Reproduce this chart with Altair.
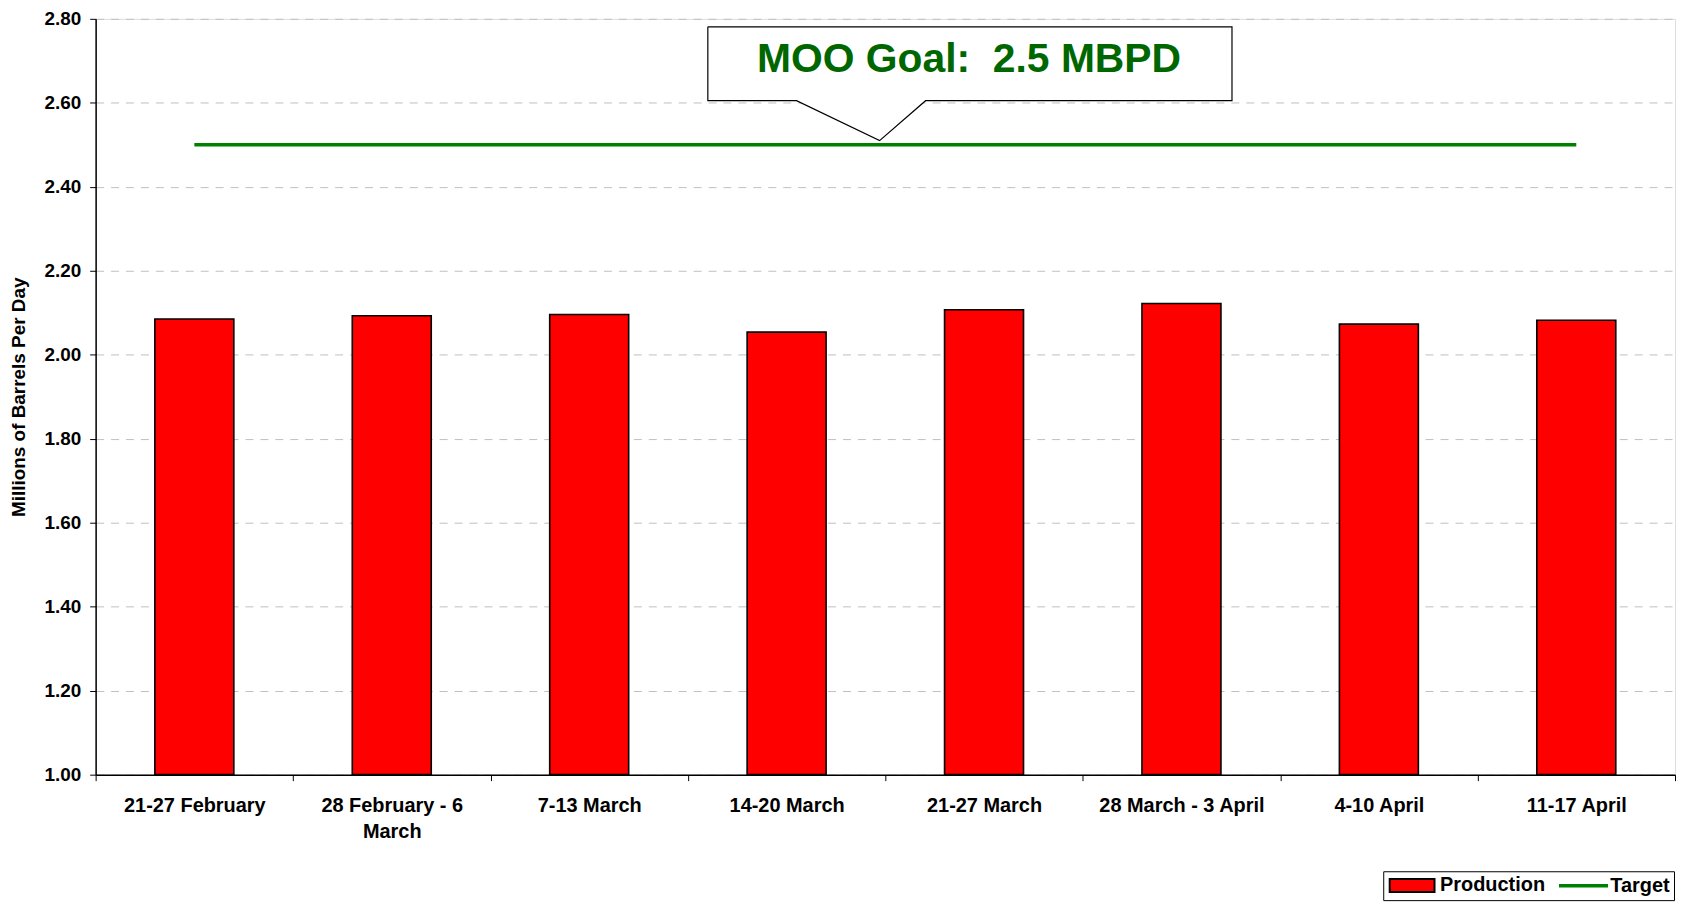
import altair as alt
import pandas as pd

# ---- data ----
categories = [
    "21-27 February",
    "28 February - 6 March",
    "7-13 March",
    "14-20 March",
    "21-27 March",
    "28 March - 3 April",
    "4-10 April",
    "11-17 April",
]
production = [2.085, 2.093, 2.096, 2.054, 2.107, 2.122, 2.073, 2.082]
target = [2.5, 2.5, 2.5, 2.5, 2.5, 2.5, 2.5, 2.5]
y_ticks = [1.0, 1.2, 1.4, 1.6, 1.8, 2.0, 2.2, 2.4, 2.6, 2.8]
series_names = ["Production", "Target"]
series_colors = ["#FF0000", "#008000"]

# callout (in category units 0..8 along x, data units along y)
callout_x = [3.101, 5.756, 5.756, 4.204, 3.971, 3.550, 3.101, 3.101]
callout_y = [2.781, 2.781, 2.605, 2.605, 2.510, 2.605, 2.605, 2.781]
goal_text = ["MOO Goal:\u00a0 2.5 MBPD"]
goal_x = [4.424]
goal_y = [2.702]

bars_df = pd.DataFrame({"week": categories, "value": production, "series": "Production"})
line_df = pd.DataFrame({"week": categories, "value": target, "series": "Target"})
callout_df = pd.DataFrame({"pos": callout_x, "value": callout_y, "i": list(range(len(callout_x)))})
goal_df = pd.DataFrame({"pos": goal_x, "value": goal_y, "text": goal_text})

FONT = "Liberation Sans"

x_enc = alt.X(
    "week:N",
    sort=categories,
    scale=alt.Scale(paddingInner=0, paddingOuter=0),
    axis=alt.Axis(
        title=None,
        labelAngle=0,
        labelFont=FONT,
        labelFontSize=20,
        labelFontWeight="bold",
        labelColor="black",
        labelPadding=15,
        labelLineHeight=26,
        labelLimit=0,
        tickBand="extent",
        tickSize=6,
        tickColor="black",
        tickWidth=1,
        domainColor="black",
        domainWidth=1.5,
        labelExpr="datum.label == '28 February - 6 March' ? ['28 February - 6', 'March'] : datum.label",
    ),
)

y_enc = alt.Y(
    "value:Q",
    scale=alt.Scale(domain=[1.0, 2.8], nice=False, zero=False),
    axis=alt.Axis(
        title="Millions of Barrels Per Day",
        values=y_ticks,
        format=".2f",
        labelFont=FONT,
        labelFontSize=19,
        labelFontWeight="bold",
        labelColor="black",
        labelPadding=9,
        tickSize=6,
        tickColor="black",
        domainColor="black",
        domainWidth=1.5,
        grid=True,
        gridColor="#C0C0C0",
        gridDash=[8, 7],
        gridWidth=1,
        titleFont=FONT,
        titleFontSize=19,
        titleFontWeight="bold",
        titleColor="black",
        titlePadding=15,
        minExtent=52,
        maxExtent=52,
    ),
)

legend = alt.Legend(
    title=None,
    orient="none",
    legendX=1293,
    legendY=856,
    direction="horizontal",
    symbolType={"expr": "datum.value == 'Production' ? 'M-1,-0.87H5V0.87H-1Z' : 'M-1,-0.1H5.3V0.1H-1Z'"},
    symbolSize=225,
    symbolStrokeColor={"expr": "datum.value == 'Production' ? '#000000' : '#008000'"},
    symbolStrokeWidth=2,
    labelFont=FONT,
    labelFontSize=20,
    labelFontWeight="bold",
    labelColor="black",
    labelOffset=33,
    labelLimit=0,
    columnPadding=10,
    padding=4,
    strokeColor="#000000",
    fillColor="white",
)

color_enc = alt.Color(
    "series:N",
    scale=alt.Scale(domain=series_names, range=series_colors),
    legend=legend,
)

bars = alt.Chart(bars_df).mark_bar(
    stroke="black", strokeWidth=1.6, width={"band": 0.4}
).encode(x=x_enc, y=y_enc, y2=alt.datum(1.0), color=color_enc)

line = alt.Chart(line_df).mark_line(strokeWidth=3.5, color="#008000").encode(
    x=x_enc, y=y_enc
)

helper_x = alt.X("pos:Q", scale=alt.Scale(domain=[0, 8], nice=False, zero=False), axis=None)

callout = alt.Chart(callout_df).mark_line(
    fill="white", stroke="black", strokeWidth=1.2
).encode(x=helper_x, y=y_enc, order="i:O")

goal = alt.Chart(goal_df).mark_text(
    font=FONT, fontSize=41, fontWeight="bold", color="#006600",
    align="center", baseline="middle"
).encode(x=helper_x, y=y_enc, text="text:N")

main = alt.layer(bars, line)
annot = alt.layer(callout, goal)

chart = (
    alt.layer(main, annot)
    .resolve_scale(x="independent")
    .properties(width=1586, height=759, padding={"left": 2, "top": 0, "right": 0, "bottom": 0})
    .configure_view(stroke="#808080", strokeWidth=1)
    .configure(background="white")
)

chart.save("out.html", embed_options={"renderer": "svg", "actions": False})
